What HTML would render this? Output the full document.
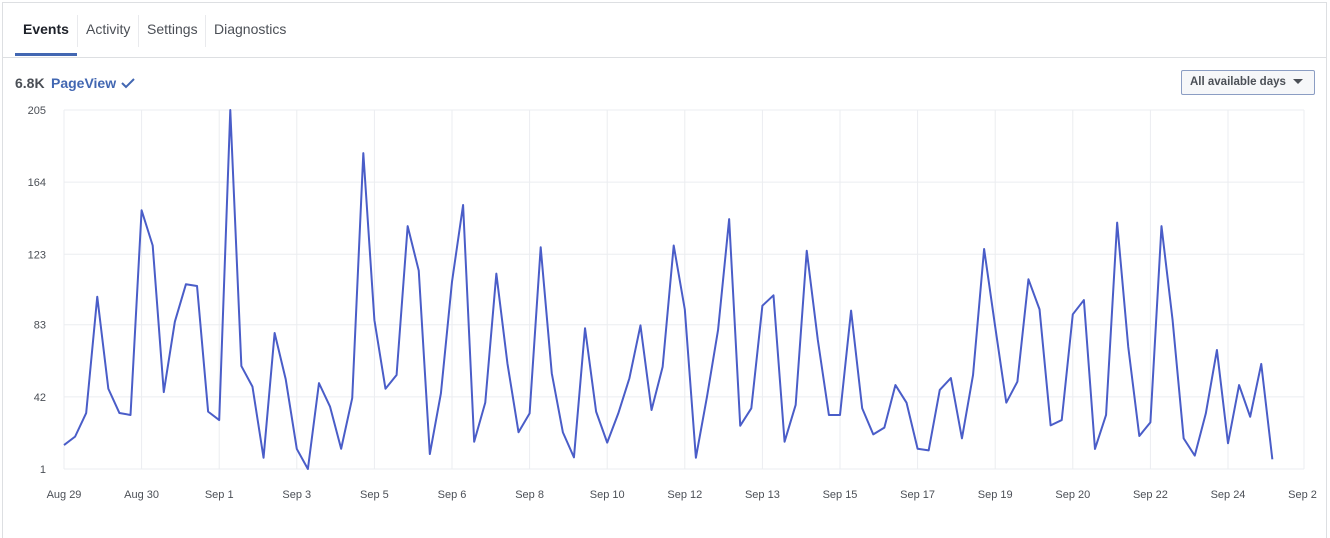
<!DOCTYPE html>
<html><head><meta charset="utf-8"><style>
html,body{margin:0;padding:0;background:#fff;}
body{width:1330px;height:531px;overflow:hidden;font-family:"Liberation Sans",Arial,sans-serif;position:relative;}
.card{position:absolute;left:2px;top:2px;width:1323px;height:535px;border:1px solid #dddfe2;border-bottom:none;overflow:hidden;background:#fff;}
.tab{position:absolute;top:18px;font-size:14px;color:#4b4f56;}
.sep{position:absolute;top:12px;width:1px;height:32px;background:#e9eaed;}
</style></head><body>
<div class="card">
  <div class="tab" style="left:20px;font-weight:bold;color:#1d2129;">Events</div>
  <div style="position:absolute;left:12px;top:50px;width:62px;height:3px;background:#4267b2;"></div>
  <div class="sep" style="left:74px"></div>
  <div class="tab" style="left:83px;">Activity</div>
  <div class="sep" style="left:135px"></div>
  <div class="tab" style="left:144px;">Settings</div>
  <div class="sep" style="left:202px"></div>
  <div class="tab" style="left:211px;">Diagnostics</div>
  <div style="position:absolute;left:0;top:54px;width:100%;height:1px;background:#dddfe2;"></div>
  <div style="position:absolute;left:12px;top:72px;font-size:14px;font-weight:bold;color:#4b4f56;">6.8K</div>
  <div style="position:absolute;left:48px;top:72px;font-size:14px;font-weight:bold;color:#4267b2;">PageView</div>
  <svg style="position:absolute;left:118px;top:74px" width="14" height="12"><path d="M1 6 L5 10 L13 2" stroke="#4267b2" stroke-width="2" fill="none"/></svg>
  <div style="position:absolute;left:1178px;top:67px;border:1px solid #8b9dc3;background:#f6f7f9;border-radius:2px;font-size:11.5px;font-weight:bold;color:#4b4f56;line-height:23px;padding-left:8px;box-sizing:border-box;width:134px;height:25px;white-space:nowrap;">All available days<span style="display:inline-block;margin-left:7px;width:0;height:0;border-left:5px solid transparent;border-right:5px solid transparent;border-top:5px solid #4b4f56;vertical-align:middle;"></span></div>
</div>
<svg id="chart" width="1317" height="531" style="position:absolute;left:0;top:0;overflow:hidden;"></svg>
<script>
const values=[14.6,19.4,32.8,98.9,46.6,32.8,31.7,148,128,44.7,84.7,106,105,33.6,28.8,205,59.5,47.8,7.4,78.3,52,12.4,1,49.8,36.4,12.5,41.3,180.5,85.6,46.6,54.4,139,113.7,9.5,44,107.4,151,16.5,38.7,112,61,21.9,32.6,127,55.4,21.9,7.6,81,33.6,16,32.6,52.5,82.6,34.5,59,128,91.7,7.4,42,80,143,25.6,35.5,93.8,99.7,16.5,37.4,125,74.3,31.7,31.7,91,35.5,20.7,24.5,48.7,38.7,12.5,11.6,45.9,52.7,18.4,54.4,126,81.8,38.7,50.6,108.8,91.7,25.8,28.8,88.9,97,12.4,31.7,141,70.5,19.75,27.5,139,85.7,18.4,8.6,32.6,68.6,15.6,48.7,30.7,60.7,6.5];
const yTicks=[1,42,83,123,164,205];
const xLabels=["Aug 29","Aug 30","Sep 1","Sep 3","Sep 5","Sep 6","Sep 8","Sep 10","Sep 12","Sep 13","Sep 15","Sep 17","Sep 19","Sep 20","Sep 22","Sep 24","Sep 26"];
const labelEvery=7;
const svg=document.getElementById('chart');
const NS='http://www.w3.org/2000/svg';
const X0=64,X1=1304,Y0=469,Y1=110,step=77.6/7;
const x=i=>X0+i*step;
const y=v=>Y0-(v-1)/(205-1)*(Y0-Y1);
function mk(t,a){const e=document.createElementNS(NS,t);for(const k in a)e.setAttribute(k,a[k]);svg.appendChild(e);return e;}
yTicks.forEach(v=>{
  const l=mk('line',{x1:X0,x2:X1,y1:y(v),y2:y(v),stroke:'#ebedf0','stroke-width':1});
  
  
  const t=mk('text',{x:46,y:y(v)+4,'text-anchor':'end','font-size':11,fill:'#4b4f56','font-family':'Liberation Sans, Arial, sans-serif'});
  t.textContent=v;
  
  
});
xLabels.forEach((s,k)=>{
  const xi=x(k*labelEvery);
  if(xi<=X1){
    const g=mk('line',{x1:xi,x2:xi,y1:Y1,y2:Y0,stroke:'#ebedf0','stroke-width':1});
    
    
  }
  const t=mk('text',{x:xi,y:498,'text-anchor':'middle','font-size':11,fill:'#4b4f56','font-family':'Liberation Sans, Arial, sans-serif'});
  t.textContent=s;
  
  
});
const r=mk('line',{x1:X1,x2:X1,y1:Y1,y2:Y0,stroke:'#ebedf0','stroke-width':1});


const p=mk('polyline',{points:values.map((v,i)=>x(i)+','+y(v)).join(' '),fill:'none',stroke:'#4a5dc8','stroke-width':2,'stroke-linejoin':'round'});


</script>
</body></html>
